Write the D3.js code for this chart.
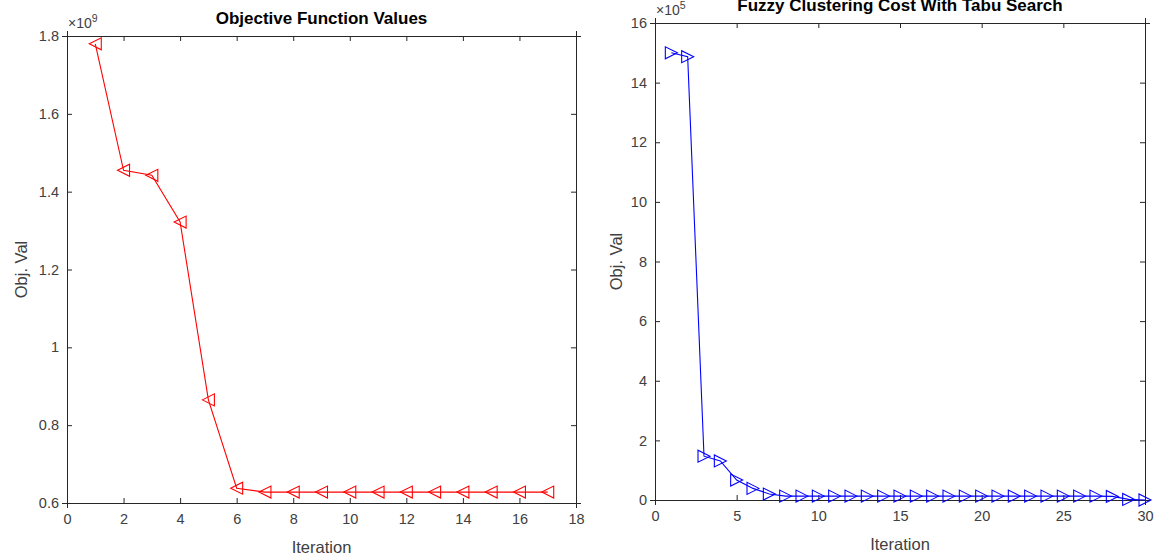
<!DOCTYPE html>
<html>
<head>
  <style>
    body{
      margin:0;
      background:#fff;
      font-family: "Liberation Sans", Arial, sans-serif;
    }
    .tick text{
      fill:#404040;
      font-size:14.5px;
    }
    .ttl{
      font-weight:bold;
      font-size:17px;
      fill:#000;
    }
    .lbl{
      font-size:16.5px;
      fill:#404040;
    }
  </style>
  <script src="https://d3js.org/d3.v7.min.js"></script>
</head>
<body>
<svg id="chart" width="1156" height="560"></svg>
<script>
// left panel: objective function values (x 1e9)
const objIter = d3.range(1, 18);
const objVals = [1.78, 1.455, 1.442, 1.322, 0.865, 0.638, 0.628, 0.628, 0.628, 0.628,
                 0.628, 0.628, 0.628, 0.628, 0.628, 0.628, 0.628];
const objXTicks = [0, 2, 4, 6, 8, 10, 12, 14, 16, 18];
const objYTicks = [0.6, 0.8, 1, 1.2, 1.4, 1.6, 1.8];

// right panel: fuzzy clustering cost (x 1e5)
const costIter = d3.range(1, 31);
const costVals = [15.0, 14.87, 1.47, 1.31, 0.67, 0.39, 0.2, 0.13, 0.13, 0.13,
                  0.13, 0.13, 0.13, 0.13, 0.13, 0.13, 0.13, 0.13, 0.13, 0.13,
                  0.13, 0.13, 0.13, 0.13, 0.13, 0.13, 0.13, 0.12, 0.02, 0.0];
const costXTicks = [0, 5, 10, 15, 20, 25, 30];
const costYTicks = [0, 2, 4, 6, 8, 10, 12, 14, 16];

const svg = d3.select('#chart');
const axisCol = '#262626';

function panel(opt){
  const g = svg.append('g');
  const x = d3.scaleLinear().domain(opt.xDomain).range([opt.left, opt.right]);
  const y = d3.scaleLinear().domain(opt.yDomain).range([opt.bottom, opt.top]);

  const fmt = d => String(+d.toFixed(1));
  const tk = 5;

  const axes = [
    [d3.axisBottom(x).tickValues(opt.xTicks).tickSize(tk).tickFormat(fmt), `translate(0,${opt.bottom})`],
    [d3.axisTop(x).tickValues(opt.xTicks).tickSize(tk).tickFormat(''), `translate(0,${opt.top})`],
    [d3.axisLeft(y).tickValues(opt.yTicks).tickSize(tk).tickFormat(fmt), `translate(${opt.left},0)`],
    [d3.axisRight(y).tickValues(opt.yTicks).tickSize(tk).tickFormat(''), `translate(${opt.right},0)`]
  ];
  axes.forEach(([ax, tr], i)=>{
    const a = g.append('g').attr('transform', tr).call(ax);
    a.select('.domain').attr('stroke', axisCol);
    // ticks point inward
    a.selectAll('.tick line').attr('stroke', axisCol)
      .each(function(){
        const l = d3.select(this);
        if(i === 0) l.attr('y2', -tk);
        if(i === 1) l.attr('y2', tk);
        if(i === 2) l.attr('x2', tk);
        if(i === 3) l.attr('x2', -tk);
      });
    if(i === 0) a.selectAll('.tick text').attr('y', 11).attr('dy', '0.71em');
    if(i === 2) a.selectAll('.tick text').attr('x', -8);
    a.selectAll('.tick text').attr('font-family', null).attr('font-size', null).attr('fill', null);
  });

  const data = opt.xs.map((d, i)=>[d, opt.ys[i]]);
  g.append('path')
    .datum(data)
    .attr('fill', 'none')
    .attr('stroke', opt.color)
    .attr('stroke-width', 1.1)
    .attr('d', d3.line().x(d=>x(d[0])).y(d=>y(d[1])));

  const s = 6;
  const tri = opt.dir === 'left'
    ? `M${-s},0L${s},${-s}L${s},${s}Z`
    : `M${s},0L${-s},${-s}L${-s},${s}Z`;
  g.selectAll('.mk')
    .data(data)
    .join('path')
    .attr('class', 'mk')
    .attr('transform', d=>`translate(${x(d[0])},${y(d[1])})`)
    .attr('d', tri)
    .attr('fill', 'none')
    .attr('stroke', opt.color)
    .attr('stroke-width', 1.1);

  const cx = (opt.left + opt.right) / 2;
  g.append('text').attr('class', 'ttl')
    .attr('x', cx).attr('y', opt.top - 12)
    .attr('text-anchor', 'middle').text(opt.title);
  g.append('text').attr('class', 'lbl')
    .attr('x', cx).attr('y', opt.bottom + 50)
    .attr('text-anchor', 'middle').text('Iteration');
  g.append('text').attr('class', 'lbl')
    .attr('transform', `translate(${opt.left - opt.yLabOff},${(opt.top + opt.bottom) / 2}) rotate(-90)`)
    .attr('text-anchor', 'middle').text('Obj. Val');

  const ex = g.append('text').attr('x', opt.left + 1).attr('y', opt.top - 8)
    .attr('fill', '#404040').attr('font-size', 14);
  ex.append('tspan').text('×10');
  ex.append('tspan').attr('font-size', 10.5).attr('dy', -6).text(opt.exp);
}

panel({
  left: 67, right: 576, top: 36, bottom: 503,
  xDomain: [0, 18], yDomain: [0.6, 1.8],
  xTicks: objXTicks, yTicks: objYTicks,
  xs: objIter, ys: objVals,
  color: '#ff0000', dir: 'left', yLabOff: 40,
  title: 'Objective Function Values', exp: '9'
});

panel({
  left: 655, right: 1145, top: 23, bottom: 500,
  xDomain: [0, 30], yDomain: [0, 16],
  xTicks: costXTicks, yTicks: costYTicks,
  xs: costIter, ys: costVals,
  color: '#0000ff', dir: 'right', yLabOff: 33,
  title: 'Fuzzy Clustering Cost With Tabu Search', exp: '5'
});
</script>
</body>
</html>
